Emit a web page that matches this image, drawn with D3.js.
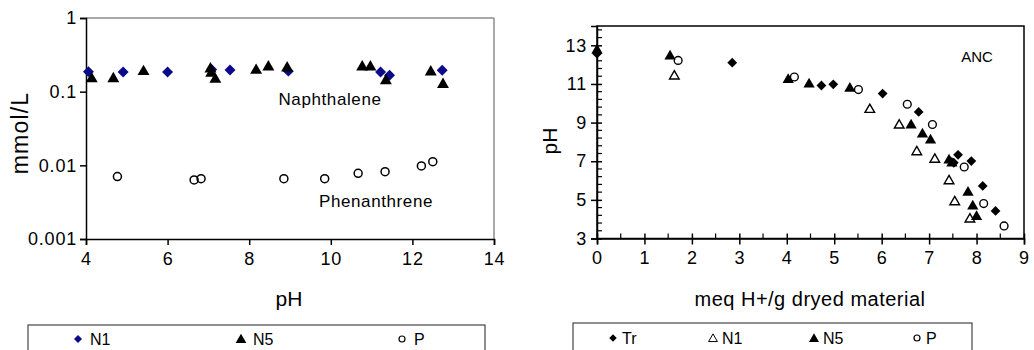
<!DOCTYPE html>
<html>
<head>
<meta charset="utf-8">
<script src="https://cdn.jsdelivr.net/npm/d3@7"></script>
<style>
  body { margin: 0; background: #fff; }
  text { font-family: "Liberation Sans", Arial, sans-serif; fill: #000; }
</style>
</head>
<body>
<div id="chart"></div>
<script>
// DATA - left panel (concentration vs pH)
const n1Conc = [[4.06,0.187],[4.91,0.185],[6.0,0.185],[7.08,0.2],[7.53,0.197],[8.96,0.19],[11.22,0.185],[11.44,0.167],[12.73,0.195]];
const n5Conc = [[4.14,0.149],[4.67,0.15],[5.41,0.187],[7.05,0.203],[7.07,0.178],[7.17,0.147],[8.17,0.195],[8.47,0.216],[8.93,0.21],[10.77,0.216],[10.97,0.216],[11.35,0.141],[12.45,0.185],[12.75,0.125]];
const pConc = [[4.77,0.00703],[6.65,0.00634],[6.82,0.0066],[8.85,0.0066],[9.85,0.0066],[10.67,0.0078],[11.33,0.0082],[12.22,0.0098],[12.5,0.0112]];
const leftXTicks = [4, 6, 8, 10, 12, 14];
const leftYTicks = [0.001, 0.01, 0.1, 1];

// DATA - right panel (ANC titration)
const trAnc = [[0,12.57],[2.85,12.1],[4.73,10.92],[4.98,10.98],[6.02,10.5],[6.78,9.55],[7.52,6.92],[7.61,7.33],[7.89,7.01],[8.13,5.72],[8.4,4.43]];
const n1Anc = [[1.63,11.4],[5.75,9.67],[6.37,8.86],[6.74,7.48],[7.12,7.09],[7.42,5.98],[7.54,4.89],[7.86,4.0]];
const n5Anc = [[0,12.75],[1.54,12.43],[4.03,11.22],[4.47,10.98],[5.33,10.76],[6.62,8.86],[6.86,8.4],[7.03,8.08],[7.42,7.05],[7.48,6.9],[7.82,5.38],[7.92,4.67],[8.0,4.12]];
const pAnc = [[1.71,12.22],[4.16,11.36],[5.51,10.71],[6.54,9.95],[7.07,8.9],[7.74,6.7],[8.15,4.81],[8.58,3.65]];
const rightXTicks = [0,1,2,3,4,5,6,7,8,9];
const rightYTicks = [3,5,7,9,11,13];

const leftLegend = ["N1", "N5", "P"];
const rightLegend = ["Tr", "N1", "N5", "P"];

const WIDTH = 1034;
const HEIGHT = 350;
const NAVY = "#0a0a8a";

const svg = d3.select("#chart").append("svg")
  .attr("width", WIDTH).attr("height", HEIGHT);

const diamond = (d) => d3.symbol().type(d3.symbolSquare).size(d)();
const triangle = (s) => d3.symbol().type(d3.symbolTriangle).size(s)();

// LEFT PANEL
const lx = d3.scaleLinear().domain([4, 14]).range([86, 494]);
const ly = d3.scaleLog().domain([0.001, 1]).range([239, 18]);

const left = svg.append("g");
left.append("line").attr("x1", lx(4)).attr("x2", lx(14)).attr("y1", ly(1)).attr("y2", ly(1))
  .attr("stroke", "#8c8c8c").attr("stroke-width", 1.5);
left.append("line").attr("x1", lx(14)).attr("x2", lx(14)).attr("y1", ly(1)).attr("y2", ly(0.001))
  .attr("stroke", "#8c8c8c").attr("stroke-width", 1.5);

const lxAxis = left.append("g").attr("transform", `translate(0,${ly(0.001)})`)
  .call(d3.axisBottom(lx).tickValues(leftXTicks).tickSize(6).tickPadding(4).tickFormat(d3.format("d")));
const lyAxis = left.append("g").attr("transform", `translate(${lx(4)},0)`)
  .call(d3.axisLeft(ly).tickValues(leftYTicks).tickSize(6).tickPadding(3).tickFormat(d => String(d)));
[lxAxis, lyAxis].forEach(a => {
  a.select(".domain").attr("stroke", "#000").attr("stroke-width", 1.5);
  a.selectAll(".tick line").attr("stroke", "#000").attr("stroke-width", 1.5);
  a.selectAll("text").style("font-family", "Liberation Sans, Arial, sans-serif")
    .style("font-size", "18px").attr("letter-spacing", "0.8px").attr("fill", "#000");
});
lxAxis.selectAll("text").attr("dy", "0.9em");

left.append("g").selectAll("path").data(n1Conc).join("path")
  .attr("d", diamond(60))
  .attr("transform", d => `translate(${lx(d[0])},${ly(d[1])}) rotate(45)`)
  .attr("fill", NAVY);
left.append("g").selectAll("path").data(n5Conc).join("path")
  .attr("d", triangle(62))
  .attr("transform", d => `translate(${lx(d[0])},${ly(d[1])})`)
  .attr("fill", "#000");
left.append("g").selectAll("circle").data(pConc).join("circle")
  .attr("cx", d => lx(d[0])).attr("cy", d => ly(d[1])).attr("r", 4)
  .attr("fill", "none").attr("stroke", "#000").attr("stroke-width", 1.5);

left.append("text").attr("x", 330).attr("y", 105).attr("text-anchor", "middle")
  .attr("font-size", "17px").attr("letter-spacing", "0.6px").text("Naphthalene");
left.append("text").attr("x", 376).attr("y", 207).attr("text-anchor", "middle")
  .attr("font-size", "17px").attr("letter-spacing", "0.6px").text("Phenanthrene");

left.append("text").attr("transform", "translate(28,133) rotate(-90)").attr("text-anchor", "middle")
  .attr("font-size", "23px").attr("letter-spacing", "1.2px").text("mmol/L");
left.append("text").attr("x", 289).attr("y", 306).attr("text-anchor", "middle")
  .attr("font-size", "21px").text("pH");

// left legend
left.append("rect").attr("x", 28).attr("y", 325).attr("width", 457).attr("height", 40)
  .attr("fill", "none").attr("stroke", "#444").attr("stroke-width", 1.2);
const leftLegendX = [78, 241, 402];
leftLegend.forEach((name, i) => {
  const cx = leftLegendX[i], cy = 339;
  if (i === 0) left.append("path").attr("d", diamond(32)).attr("transform", `translate(${cx},${cy}) rotate(45)`).attr("fill", NAVY);
  if (i === 1) left.append("path").attr("d", triangle(50)).attr("transform", `translate(${cx},${cy + 1})`).attr("fill", "#000");
  if (i === 2) left.append("circle").attr("cx", cx).attr("cy", cy).attr("r", 3).attr("fill", "none").attr("stroke", "#000").attr("stroke-width", 1.2);
  left.append("text").attr("x", cx + 12).attr("y", 345).attr("font-size", "16px").text(name);
});

// RIGHT PANEL
const rx = d3.scaleLinear().domain([0, 9]).range([597, 1024]);
const ry = d3.scaleLinear().domain([3, 14]).range([238.5, 26]);

const right = svg.append("g");
right.append("rect").attr("x", rx(0)).attr("y", ry(14)).attr("width", rx(9) - rx(0)).attr("height", ry(3) - ry(14))
  .attr("fill", "none").attr("stroke", "#000").attr("stroke-width", 1.5);

// minor ticks
right.append("g").selectAll("line").data(d3.range(0.5, 9, 1)).join("line")
  .attr("x1", d => rx(d)).attr("x2", d => rx(d)).attr("y1", ry(3)).attr("y2", ry(3) - 5)
  .attr("stroke", "#000").attr("stroke-width", 1.2);
right.append("g").selectAll("line").data(d3.range(3.4, 14, 0.4).filter(v => Math.abs((v - 3) % 2) > 0.01 && Math.abs((v - 3) % 2 - 2) > 0.01)).join("line")
  .attr("x1", rx(0)).attr("x2", rx(0) + 5).attr("y1", d => ry(d)).attr("y2", d => ry(d))
  .attr("stroke", "#000").attr("stroke-width", 1.2);

const rxAxis = right.append("g").attr("transform", `translate(0,${ry(3)})`)
  .call(d3.axisBottom(rx).tickValues(rightXTicks).tickSize(6).tickPadding(4));
const ryAxis = right.append("g").attr("transform", `translate(${rx(0)},0)`)
  .call(d3.axisLeft(ry).tickValues(rightYTicks).tickSize(6).tickPadding(4));
[rxAxis, ryAxis].forEach(a => {
  a.select(".domain").attr("stroke", "#000").attr("stroke-width", 1.5);
  a.selectAll(".tick line").attr("stroke", "#000").attr("stroke-width", 1.5);
  a.selectAll("text").style("font-family", "Liberation Sans, Arial, sans-serif")
    .style("font-size", "18px").attr("letter-spacing", "0.8px").attr("fill", "#000");
});
rxAxis.selectAll(".tick line").attr("y1", -5);
ryAxis.selectAll(".tick line").attr("x1", 5);
rxAxis.selectAll("text").attr("dy", "0.85em");

right.append("g").selectAll("path").data(trAnc).join("path")
  .attr("d", diamond(48))
  .attr("transform", d => `translate(${rx(d[0])},${ry(d[1])}) rotate(45)`)
  .attr("fill", "#000");
right.append("g").selectAll("path").data(n1Anc).join("path")
  .attr("d", triangle(40))
  .attr("transform", d => `translate(${rx(d[0])},${ry(d[1])})`)
  .attr("fill", "#fff").attr("stroke", "#000").attr("stroke-width", 1.4);
right.append("g").selectAll("path").data(n5Anc).join("path")
  .attr("d", triangle(55))
  .attr("transform", d => `translate(${rx(d[0])},${ry(d[1])})`)
  .attr("fill", "#000");
right.append("g").selectAll("circle").data(pAnc).join("circle")
  .attr("cx", d => rx(d[0])).attr("cy", d => ry(d[1])).attr("r", 3.9)
  .attr("fill", "none").attr("stroke", "#000").attr("stroke-width", 1.4);

right.append("text").attr("x", 977).attr("y", 62).attr("text-anchor", "middle")
  .attr("font-size", "15px").text("ANC");
right.append("text").attr("transform", "translate(557,141) rotate(-90)").attr("text-anchor", "middle")
  .attr("font-size", "21px").text("pH");
right.append("text").attr("x", 810).attr("y", 306).attr("text-anchor", "middle")
  .attr("font-size", "20px").attr("letter-spacing", "0.5px").text("meq H+/g dryed material");

// right legend
right.append("rect").attr("x", 573).attr("y", 323).attr("width", 399).attr("height", 40)
  .attr("fill", "none").attr("stroke", "#444").attr("stroke-width", 1.2);
const rightLegendX = [613, 713, 814, 917];
rightLegend.forEach((name, i) => {
  const cx = rightLegendX[i], cy = 338;
  if (i === 0) right.append("path").attr("d", diamond(28)).attr("transform", `translate(${cx},${cy}) rotate(45)`).attr("fill", "#000");
  if (i === 1) right.append("path").attr("d", triangle(34)).attr("transform", `translate(${cx},${cy + 1})`).attr("fill", "#fff").attr("stroke", "#000").attr("stroke-width", 1);
  if (i === 2) right.append("path").attr("d", triangle(44)).attr("transform", `translate(${cx},${cy + 1})`).attr("fill", "#000");
  if (i === 3) right.append("circle").attr("cx", cx).attr("cy", cy).attr("r", 3).attr("fill", "none").attr("stroke", "#000").attr("stroke-width", 1.2);
  right.append("text").attr("x", cx + 9).attr("y", 344).attr("font-size", "16px").text(name);
});
</script>
</body>
</html>
